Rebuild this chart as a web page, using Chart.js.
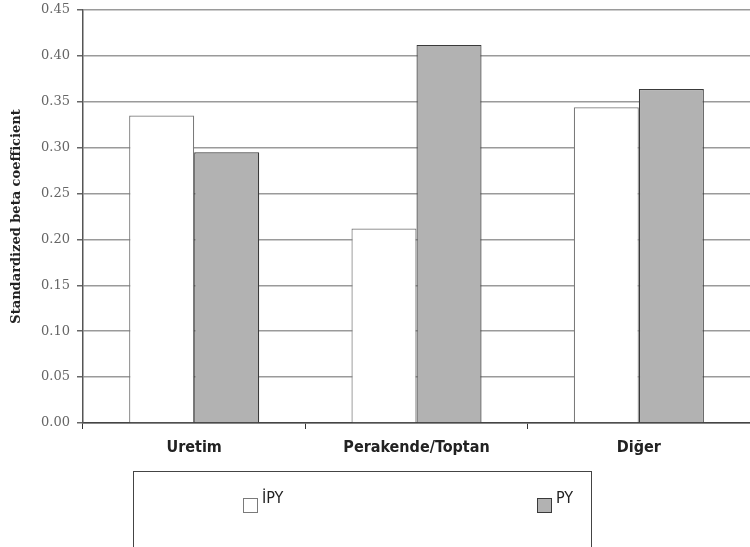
<!DOCTYPE html>
<html>
<head>
<meta charset="utf-8">
<script src="https://cdn.jsdelivr.net/npm/chart.js@4"></script>
<style>
  body { margin: 0; background: #fff; overflow: hidden; }
  #wrap { position: relative; width: 750px; height: 547px; }
  #legendBox {
    position: absolute; left: 133px; top: 471px; width: 459px; height: 120px;
    border: 1px solid #444; box-sizing: border-box;
  }
  .item { position: absolute; top: 16px; font: 16px "DejaVu Sans Condensed", "Liberation Sans", Arial, sans-serif; color: #222; }
  .item span.sw { display: inline-block; width: 15px; height: 15px; box-sizing: border-box; vertical-align: -10px; margin-right: 4px; }
</style>
</head>
<body>
<div id="wrap">
  <canvas id="chart" width="750" height="547"></canvas>
  <div id="legendBox"></div>
</div>
<script>
const categories = ['Uretim', 'Perakende/Toptan', 'Diğer'];
const ipyValues = [0.335, 0.212, 0.344];
const pyValues = [0.295, 0.412, 0.364];
const seriesNames = ['İPY', 'PY'];

const ctx = document.getElementById('chart').getContext('2d');
const chart = new Chart(ctx, {
    type: 'bar',
    data: {
        labels: categories,
        datasets: [
            {
                label: seriesNames[0],
                data: ipyValues,
                backgroundColor: '#ffffff',
                borderColor: '#7a7a7a',
                borderWidth: 1.2,
                barPercentage: 1,
                categoryPercentage: 0.585
            },
            {
                label: seriesNames[1],
                data: pyValues,
                backgroundColor: '#b2b2b2',
                borderColor: '#3a3a3a',
                borderWidth: 1.2,
                barPercentage: 1,
                categoryPercentage: 0.585
            }
        ]
    },
    options: {
        responsive: false,
        animation: false,
        layout: { padding: { top: 10, right: 0, left: 0, bottom: 0 } },
        plugins: {
            legend: { display: false },
            tooltip: { enabled: false }
        },
        scales: {
            x: {
                afterFit: function(scale) { scale.height = 124; },
                grid: {
                    drawOnChartArea: false,
                    drawTicks: true,
                    tickLength: 6,
                    offset: true,
                    color: '#333'
                },
                border: { color: '#444', width: 1.5 },
                ticks: {
                    color: '#222',
                    padding: 9,
                    font: { family: '"DejaVu Sans Condensed", "Liberation Sans", Arial, sans-serif', size: 16, weight: 'bold' }
                }
            },
            y: {
                min: 0,
                max: 0.45,
                afterFit: function(scale) {
                    scale.width = 83;
                    scale.paddingTop = 0;
                    scale.paddingBottom = 0;
                },
                grid: { color: '#9a9a9a', lineWidth: 1.5, tickLength: 6, tickColor: '#666' },
                border: { color: '#555', width: 1.5 },
                ticks: {
                    stepSize: 0.05,
                    padding: 7,
                    color: '#666',
                    font: { family: '"DejaVu Serif", "Liberation Serif", serif', size: 13 },
                    callback: function(v) { return v.toFixed(2); }
                },
                title: {
                    display: true,
                    text: 'Standardized beta coefficient',
                    color: '#222',
                    padding: { top: 9, bottom: 0 },
                    font: { family: '"DejaVu Serif", "Liberation Serif", serif', size: 13, weight: 'bold' }
                }
            }
        }
    }
});

// legend built from the datasets
const legendBox = document.getElementById('legendBox');
const legendX = [109, 403];
chart.data.datasets.forEach(function(ds, i) {
    const item = document.createElement('div');
    item.className = 'item';
    item.style.left = legendX[i] + 'px';
    item.innerHTML = '<span class="sw" style="background:' + ds.backgroundColor +
        ';border:1.5px solid ' + ds.borderColor + '"></span>' + ds.label;
    legendBox.appendChild(item);
});
</script>
</body>
</html>
